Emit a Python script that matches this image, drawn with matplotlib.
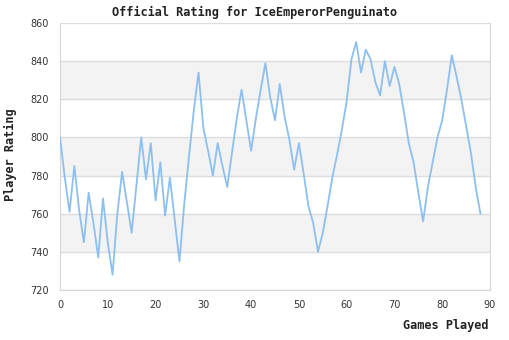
import matplotlib
matplotlib.use("Agg")
import matplotlib.pyplot as plt

# ratings per game
games = list(range(89))
ratings = [
    800, 779, 761, 785, 762, 745, 771, 755, 737, 768,
    745, 728, 760, 782, 766, 750, 775, 800, 778, 797,
    767, 787, 759, 779, 757, 735, 765, 790, 814, 834,
    805, 793, 780, 797, 785, 774, 792, 810, 825, 809,
    793, 810, 825, 839, 821, 809, 828, 811, 799, 783,
    797, 781, 764, 755, 740, 750, 764, 779, 791, 804,
    819, 841, 850, 834, 846, 841, 829, 822, 840, 827,
    837, 828, 813, 797, 787, 771, 756, 774, 787, 800,
    809, 825, 843, 832, 820, 806, 792, 774, 760,
]
y_ticks = [720, 740, 760, 780, 800, 820, 840, 860]
x_ticks = [0, 10, 20, 30, 40, 50, 60, 70, 80, 90]
gray_bands = [(740, 760), (780, 800), (820, 840)]

title_font = {"family": "DejaVu Sans Mono", "weight": "bold", "size": 8.6, "color": "#222222"}

fig = plt.figure(figsize=(5.1, 3.4), dpi=100)
ax = fig.add_axes([60 / 510, 50 / 340, 430 / 510, 267 / 340])

for lo, hi in gray_bands:
    ax.axhspan(lo, hi, color="#f3f3f3", zorder=0, lw=0)
for yv in y_ticks:
    ax.axhline(yv, color="#dddddd", lw=1.0, zorder=1)

ax.plot(games, ratings, color="#8dbff0", lw=1.3, zorder=3)

ax.set_xlim(0, 90)
ax.set_ylim(720, 860)
ax.set_xticks(x_ticks)
ax.set_yticks(y_ticks)
ax.tick_params(length=0, labelsize=7, colors="#333333")
ax.tick_params(axis="y", pad=8)
ax.tick_params(axis="x", pad=7)

for side in ["left", "bottom", "right"]:
    ax.spines[side].set_color("#d6d6d6")
ax.spines["top"].set_visible(False)

fig.text(0.5, 1 - 12 / 340, "Official Rating for IceEmperorPenguinato",
         ha="center", va="center", fontdict=title_font)
fig.text(489 / 510, 1 - 325 / 340, "Games Played", ha="right", va="center", fontdict=title_font)
fig.text(10 / 510, 1 - 155 / 340, "Player Rating", ha="center", va="center",
         rotation=90, fontdict=title_font)

fig.savefig("out.png", dpi=100)
